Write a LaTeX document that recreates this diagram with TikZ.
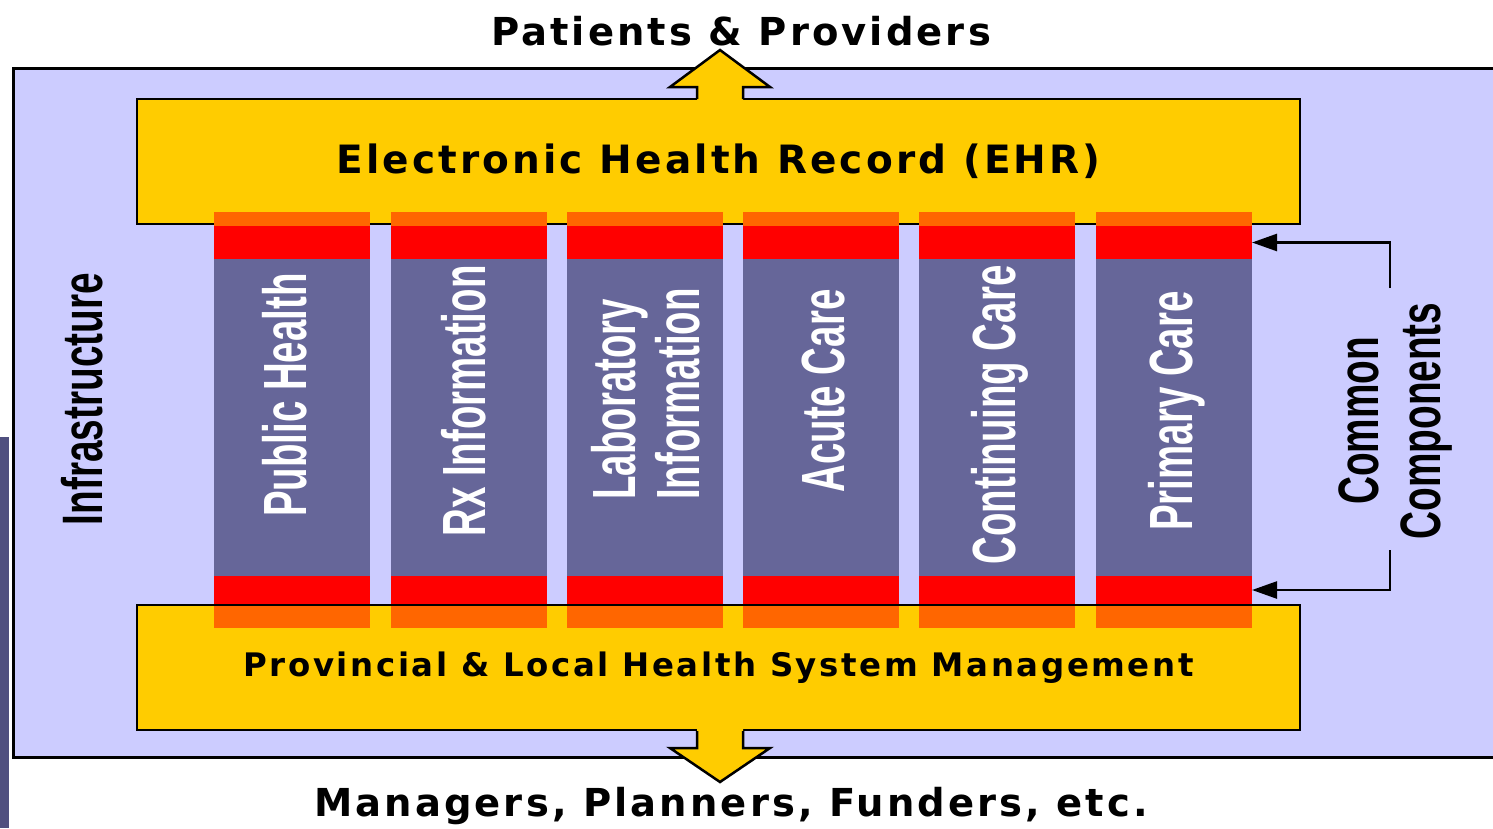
\documentclass[tikz,border=0pt]{standalone}
\usepackage{fontspec}
\usepackage{tikz}
\usetikzlibrary{arrows.meta}

\newfontfamily\headfont{DejaVu Sans}[LetterSpace=8]
\newfontfamily\narrowfont{Liberation Sans}

\definecolor{lavender}{HTML}{CCCCFF}
\definecolor{ehryellow}{HTML}{FFCC00}
\definecolor{bandorange}{HTML}{FF6600}
\definecolor{bandred}{HTML}{FF0000}
\definecolor{colblue}{HTML}{666699}
\definecolor{edgeblue}{HTML}{50507F}

\tikzset{
    headtext/.style={font=\headfont\bfseries\fontsize{38.5}{42}\selectfont},
    yellowbox/.style={draw, line width=2.5pt, fill=ehryellow, minimum width=1163pt,
        minimum height=125pt, inner sep=0pt, outer sep=0pt},
    band/.style={inner sep=0pt, outer sep=0pt, minimum width=156pt},
    collabel/.style={rotate=90, xscale=0.63, text=white, align=left, inner sep=0pt,
        font=\narrowfont\bfseries\fontsize{61}{64}\selectfont},
    sidelabel/.style={rotate=90, xscale=0.68, align=center, inner sep=0pt,
        font=\narrowfont\bfseries\fontsize{57}{62}\selectfont},
    link/.style={line width=2.5pt, -{Triangle[length=25pt,width=17pt]}},
    bigarrow/.style={line width=2.5pt, line join=miter}
}

\begin{document}
\begin{tikzpicture}[x=1pt, y=-1pt]
    \useasboundingbox (0,0) rectangle (1493,828);
    \fill[white] (0,0) rectangle (1493,828);
    \fill[edgeblue] (0,437) rectangle (9,828);
    \draw[line width=3pt, fill=lavender] (13,68) rectangle (1520,757);

    % EHR and management boxes
    \node[yellowbox, font=\headfont\bfseries\fontsize{39}{42}\selectfont] (ehr) at (718.5,161.5) {Electronic Health Record (EHR)};
    \node[yellowbox, font=\headfont\bfseries\fontsize{32.4}{35}\selectfont] (mgmt) at (718.5,667.5) {Provincial \& Local Health System Management};

    % columns
    \foreach \x/\n in {214/pub,391/rx,567/lab,743/acute,919/cont,1096/prim}{
        \fill[bandorange] (\x,212) rectangle ++(156,16);
        \fill[bandorange] (\x,604) rectangle ++(156,24);
        \node[band, fill=bandred, minimum height=33pt] (\n-top) at (\x+78,242.5) {};
        \node[band, fill=colblue, minimum height=317pt] (\n) at (\x+78,417.5) {};
        \node[band, fill=bandred, minimum height=28pt] (\n-bot) at (\x+78,590) {};
    }
    \draw[line width=2.5pt] (mgmt.north west) -- (mgmt.north east);

    \node[collabel] (pub-lbl) at (285,395) {Public Health};
    \node[collabel] (rx-lbl) at (464,401) {Rx Information};
    \node[collabel] (lab-lbl) at (646,394) {Laboratory\\Information};
    \node[collabel] (acute-lbl) at (823,391) {Acute Care};
    \node[collabel] (cont-lbl) at (1000,415) {Continuing Care};
    \node[collabel] (prim-lbl) at (1177,411) {Primary Care};

    % in and out arrows
    \fill[ehryellow] (697,101) -- (697,87) -- (670,87) -- (720,50) -- (770,87) -- (743,87) -- (743,101) -- cycle;
    \draw[bigarrow] (697,99) -- (697,87) -- (670,87) -- (720,50) -- (770,87) -- (743,87) -- (743,99);
    \fill[ehryellow] (697,729) -- (697,748) -- (670,748) -- (720,782) -- (770,748) -- (743,748) -- (743,729) -- cycle;
    \draw[bigarrow] (697,731) -- (697,748) -- (670,748) -- (720,782) -- (770,748) -- (743,748) -- (743,731);

    \node[headtext] (patients) at (741,31) {Patients \& Providers};
    \node[headtext] (managers) at (731,806) {Managers, Planners, Funders, etc.};

    \node[sidelabel] (infra) at (82,399) {Infrastructure};
    \node[sidelabel] (common) at (1395,421) {Common\\Components};

    \coordinate (brtop) at (1390,288);
    \coordinate (brbot) at (1390,550);
    \draw[link] (brtop) |- (prim-top.east);
    \draw[link] (brbot) |- (prim-bot.east);
\end{tikzpicture}
\end{document}
